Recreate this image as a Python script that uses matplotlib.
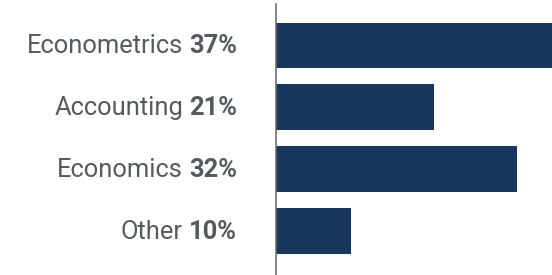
import matplotlib
matplotlib.use('Agg')
import matplotlib.pyplot as plt
import matplotlib.transforms as mtransforms

plt.rcParams['font.family'] = ['Roboto', 'DejaVu Sans']

# data
subjects = ["Econometrics", "Accounting", "Economics", "Other"]
shares = [37, 21, 32, 10]

bar_color = '#19365c'
text_color = '#555a60'

fig = plt.figure(figsize=(5.52, 2.75), dpi=100)
ax = fig.add_axes([276 / 552, 0, 276 / 552, 271 / 275])

ypos = list(range(len(subjects)))
ax.barh(ypos, shares, height=0.74, color=bar_color, zorder=1)
ax.set_xlim(0, 36.6)
ax.set_ylim(3.71, -0.67)

for s in ['top', 'right', 'bottom']:
    ax.spines[s].set_visible(False)
ax.spines['left'].set_color('#6e6e6e')
ax.spines['left'].set_linewidth(1.2)
ax.spines['left'].set_zorder(3)
ax.set_xticks([])
ax.set_yticks([])

# labels: name in regular, share in bold, right aligned left of the axis
trans = mtransforms.offset_copy(ax.get_yaxis_transform(), fig=fig, x=-39, y=-7.5, units='dots')
for y, name, val in zip(ypos, subjects, shares):
    t = ax.text(0, y, f"{val}%", transform=trans, ha='right', va='baseline',
                fontsize=18.4, fontweight='bold', color=text_color)
    ax.annotate(name, xy=(0, 0), xycoords=t, xytext=(-6, 0), textcoords='offset pixels',
                ha='right', va='bottom', fontsize=18.4, color=text_color)

fig.savefig('out.png', dpi=100)
